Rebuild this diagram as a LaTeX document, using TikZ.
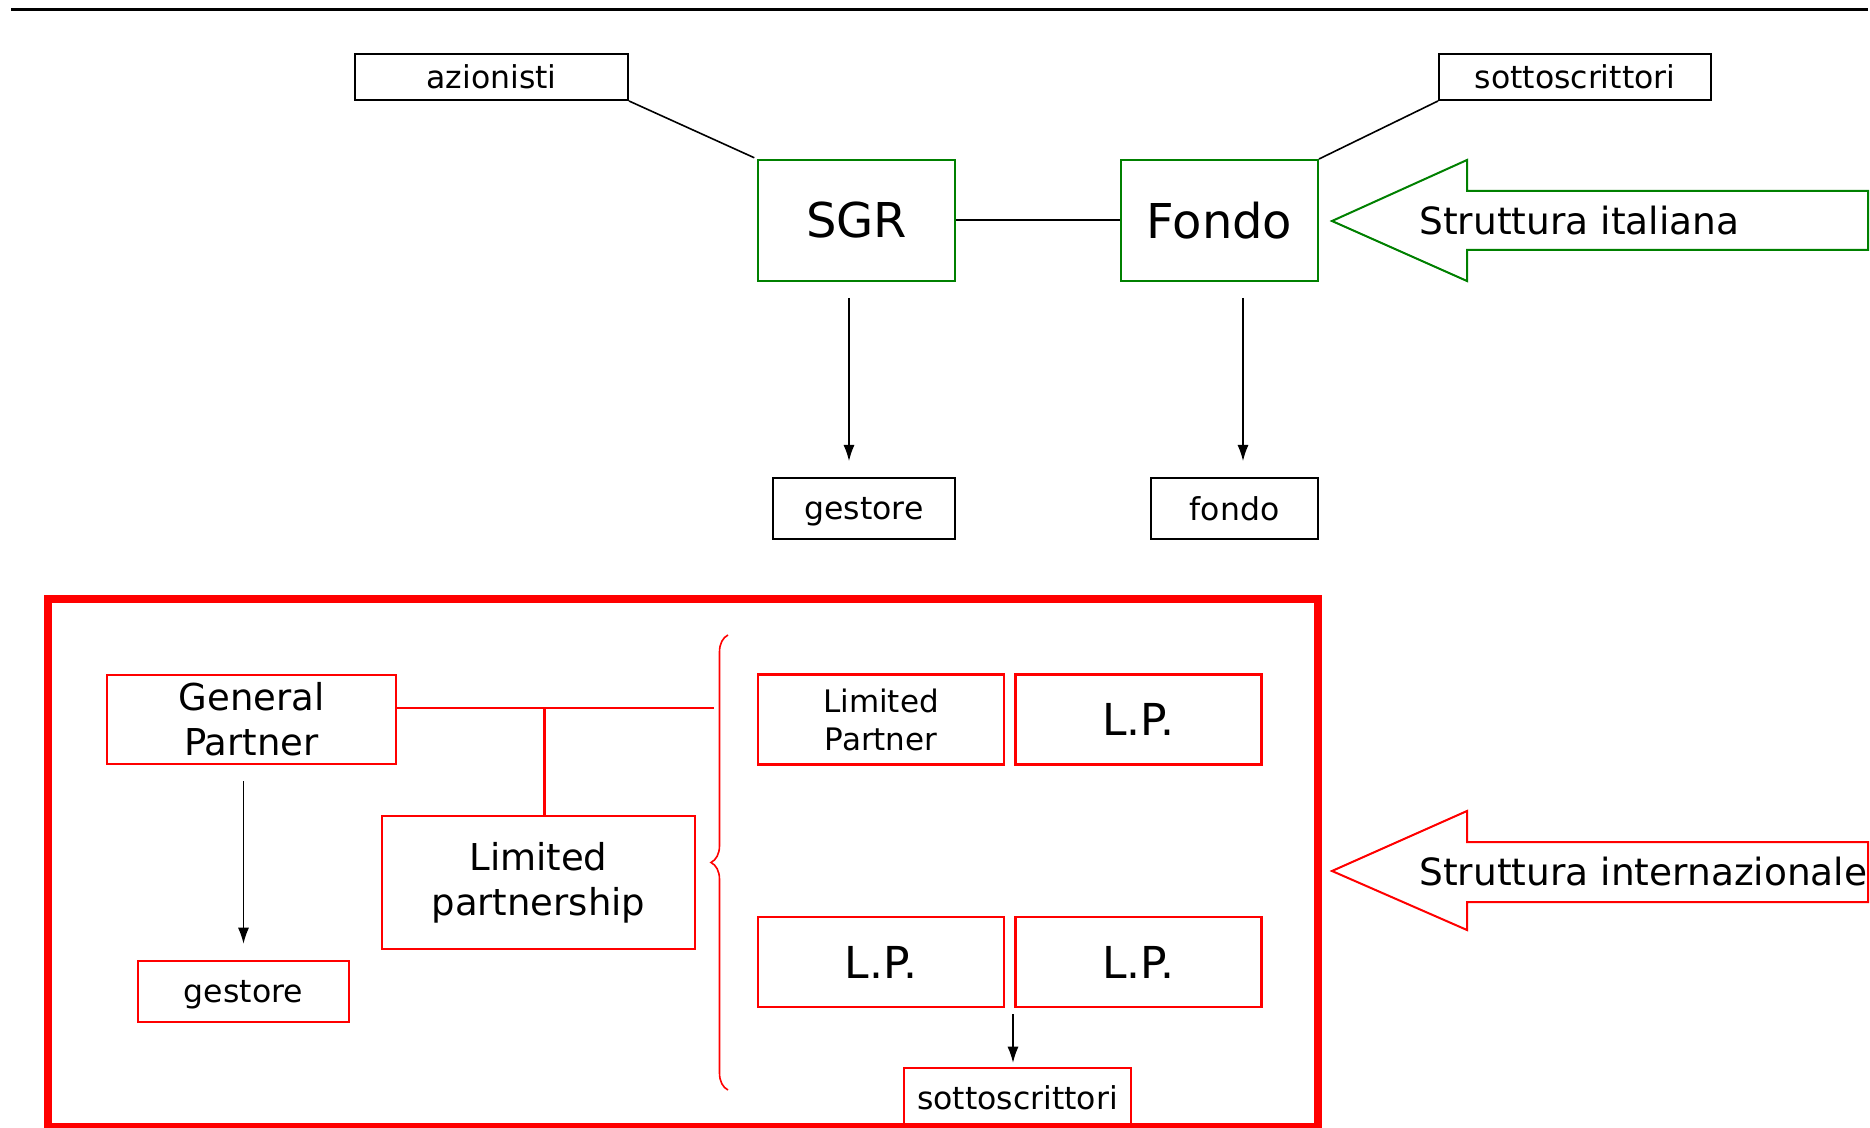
\documentclass[tikz,border=0pt]{standalone}
\usepackage{fontspec}
\setmainfont{DejaVu Sans}
\usetikzlibrary{arrows.meta,positioning,decorations.pathreplacing}

\definecolor{itagreen}{RGB}{0,128,0}
\definecolor{intred}{RGB}{255,0,0}

\begin{document}
\begin{tikzpicture}[
    x=0.5pt, y=-0.5pt,
    blk/.style={draw, line width=1pt, inner sep=0pt, minimum height=23pt, text depth=0pt, font=\fontsize{15.75}{19}\selectfont},
    grn/.style={draw=itagreen, line width=1pt, inner sep=0pt, minimum width=98.5pt, minimum height=60.5pt, font=\fontsize{24}{28}\selectfont},
    redbox/.style={draw=intred, line width=1.3pt, inner sep=0pt, align=center},
    lpbox/.style={redbox, minimum width=123pt, minimum height=45pt, font=\fontsize{22}{26}\selectfont},
    arr/.style={-{Latex[length=8pt,width=5.5pt]}, line width=0.6pt},
    node distance=82pt
  ]
    \useasboundingbox (0,0) rectangle (1870,1128);
    \draw[line width=1.5pt] (11,9.5) -- (1868,9.5);

    % struttura italiana
    \node[grn] (sgr) at (856.5,220.5) {SGR};
    \node[grn, right=of sgr] (fondo) {Fondo};
    \node[blk, minimum width=136.5pt] (azionisti) at (491.5,77) {azionisti};
    \node[blk, minimum width=136pt] (sottotop) at (1575,77) {sottoscrittori};
    \node[blk, minimum width=91pt, minimum height=30.5pt] (gestore) at (864,508.5) {gestore};
    \node[blk, minimum width=83.5pt, minimum height=30.5pt] (fondosm) at (1234.5,508.5) {fondo};

    \draw[line width=1pt] (sgr) -- (fondo);
    \draw[line width=0.8pt, shorten >=1.5pt] (azionisti.south east) -- (sgr.north west);
    \draw[line width=0.8pt] (sottotop.south west) -- (fondo.north east);
    \draw[arr, shorten <=8pt, shorten >=8pt] ([xshift=-3.75pt]sgr.south) -- ([xshift=-3.75pt]sgr.south |- gestore.north);
    \draw[arr, shorten <=8pt, shorten >=8pt] ([xshift=11.75pt]fondo.south) -- ([xshift=11.75pt]fondo.south |- fondosm.north);

    \draw[itagreen, line width=1pt] (1332,221) -- (1467,160) -- (1467,191) -- (1868,191) -- (1868,250) -- (1467,250) -- (1467,281) -- cycle;
    \node[anchor=west, inner sep=0pt, font=\fontsize{18.75}{22}\selectfont] (ita) at (1419,221) {Struttura italiana};

    % struttura internazionale
    \draw[intred, line width=4pt] (47.5,599) rectangle (1318,1127);
    \node[redbox, minimum width=144.5pt, minimum height=44.5pt, font=\fontsize{18.5}{22.5}\selectfont] (gp) at (251.5,719.5) {General\\Partner};
    \node[redbox, minimum width=156.5pt, minimum height=66.5pt, font=\fontsize{18.5}{22.5}\selectfont] (lpship) at (538.5,882.5) {Limited\\partnership};
    \node[redbox, minimum width=105.5pt, minimum height=30.5pt, text depth=0pt, font=\fontsize{15.75}{19}\selectfont] (gestore2) at (243.5,991.5) {gestore};
    \node[lpbox, font=\fontsize{15.5}{19}\selectfont] (lp1) at (881,719.5) {Limited\\Partner};
    \node[lpbox, right=4.3pt of lp1] (lp2) {L.P.};
    \node[lpbox, below=75pt of lp1] (lp3) {L.P.};
    \node[lpbox, right=4.3pt of lp3] (lp4) {L.P.};
    \node[redbox, minimum width=113.5pt, minimum height=29.5pt, font=\fontsize{15.75}{19}\selectfont] (sotto2) at (1017.5,1097.5) {sottoscrittori};
    \coordinate (btop) at (728,635);
    \coordinate (bbot) at (728,1090);

    \draw[intred, line width=0.8pt, decorate, decoration={brace, amplitude=8.5pt, aspect=0.5}] (bbot) -- (btop);
    \draw[intred, line width=1.3pt] ([yshift=5.75pt]gp.east) -- ([yshift=5.75pt,xshift=-7pt]gp.east -| btop) coordinate[pos=0.465] (join);
    \draw[intred, line width=1.3pt] (join) -- (join |- lpship.north);
    \draw[arr, shorten <=8pt, shorten >=8pt] (gp.south -| gestore2) -- (gestore2);
    \draw[arr, shorten <=3pt, shorten >=2pt] (lp3.south -| 1013,0) -- (sotto2.north -| 1013,0);

    \draw[intred, line width=1pt] (1332,871) -- (1467,811) -- (1467,842) -- (1868,842) -- (1868,902) -- (1467,902) -- (1467,930) -- cycle;
    \node[anchor=west, inner sep=0pt, font=\fontsize{18.75}{22}\selectfont] (intl) at (1419,872) {Struttura internazionale};
  \end{tikzpicture}
\end{document}
